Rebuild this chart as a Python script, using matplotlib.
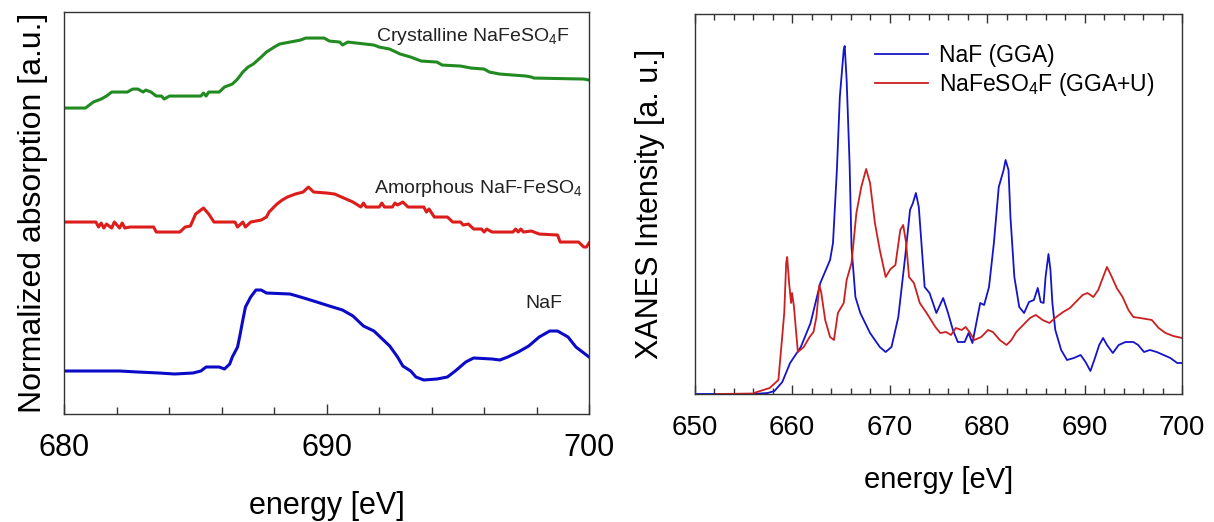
import matplotlib.pyplot as plt
from matplotlib.ticker import MultipleLocator

plt.rcParams['font.family'] = ['Liberation Sans', 'DejaVu Sans']
plt.rcParams['mathtext.default'] = 'regular'

# left panel: measured absorption (offset curves, arbitrary units)
cryst_e = [680, 680.8, 681.1, 681.4, 681.6, 681.8, 682.4, 682.6, 682.8, 683.0, 683.1, 683.3, 683.5, 683.7,
           683.8, 684.0, 685.2, 685.3, 685.4, 685.5, 685.9, 686.1, 686.4, 686.6, 686.8, 687.0, 687.2, 687.5,
           687.7, 688.0, 688.2, 688.6, 689.0, 689.2, 689.9, 690.1, 690.5, 690.6, 690.8, 691.8, 692.0, 692.4,
           692.8, 693.2, 693.6, 694.2, 694.4, 695.1, 695.5, 696.0, 696.2, 696.6, 697.1, 697.6, 697.8, 697.9,
           699.8, 700.0]
cryst_v = [306, 306, 312, 315, 318, 322, 322, 325, 325, 322, 324, 322, 318, 318,
           315, 318, 318, 321, 318, 322, 322, 327, 330, 335, 342, 347, 350, 357,
           362, 367, 370, 372, 374, 376, 376, 373, 372, 369, 372, 369, 367, 365,
           360, 357, 353, 352, 349, 348, 346, 345, 342, 340, 339, 338, 337, 336,
           335, 334]

amor_e = [680, 681.2, 681.3, 681.4, 681.5, 681.6, 681.8, 681.9, 682.1, 682.2, 682.3, 682.5, 683.4, 683.5,
          684.4, 684.6, 684.8, 685.0, 685.3, 685.5, 685.7, 686.5, 686.6, 686.8, 686.9, 687.1, 687.5, 687.7,
          687.8, 688.1, 688.3, 688.5, 688.8, 689.1, 689.3, 689.5, 690.0, 690.3, 691.0, 691.3, 691.4, 691.5,
          692.0, 692.1, 692.2, 692.5, 692.6, 692.7, 692.9, 693.1, 693.7, 693.8, 693.9, 694.1, 694.6, 694.8,
          695.1, 695.2, 695.4, 695.6, 695.9, 696.0, 696.1, 696.3, 697.1, 697.2, 697.3, 697.4, 697.5, 697.8,
          698.1, 698.8, 698.9, 699.6, 699.8, 699.9, 700.0]
amor_v = [192, 192, 187, 191, 186, 190, 186, 192, 186, 191, 186, 187, 187, 182,
          182, 187, 188, 200, 206, 200, 192, 192, 187, 192, 187, 192, 194, 197,
          202, 210, 214, 217, 220, 222, 227, 222, 221, 220, 212, 207, 211, 207,
          207, 211, 207, 207, 211, 209, 212, 207, 207, 202, 205, 197, 197, 192,
          192, 189, 190, 185, 185, 182, 185, 182, 182, 185, 182, 185, 182, 183,
          180, 179, 172, 172, 167, 167, 171]

naf_e = [680, 682.1, 682.8, 683.6, 684.2, 684.9, 685.2, 685.4, 685.9, 686.1, 686.3, 686.4, 686.6, 686.7,
         686.8, 686.9, 687.1, 687.3, 687.5, 687.7, 688.6, 689.0, 689.5, 690.1, 690.6, 691.0, 691.4, 691.8,
         692.0, 692.4, 692.7, 692.9, 693.2, 693.4, 693.7, 694.2, 694.6, 694.9, 695.3, 695.6, 696.3, 696.6,
         696.9, 697.3, 697.7, 698.1, 698.5, 698.8, 699.2, 699.5, 699.9, 700.0]
naf_v = [43, 43, 42, 41, 40, 41, 43, 47, 47, 45, 50, 57, 67, 80,
         94, 107, 117, 124, 124, 121, 120, 117, 113, 108, 104, 98, 88, 83,
         78, 68, 57, 48, 43, 37, 34, 35, 37, 43, 52, 56, 55, 54,
         57, 62, 68, 77, 83, 83, 77, 67, 59, 57]

# right panel: calculated XANES
gga_e = [650, 656, 657.5, 658.2, 659, 659.8, 660.9, 661.9, 662.9, 663.9, 664.2, 664.6, 664.9, 665.3,
         665.4, 665.6, 665.9, 666.1, 666.5, 667.0, 668.0, 669.0, 669.6, 670.2, 670.9, 671.6, 672.1, 672.4,
         672.7, 673.0, 673.3, 673.6, 674.1, 674.8, 675.5, 676.0, 676.5, 677.0, 677.7, 678.1, 678.5, 678.9,
         679.3, 679.7, 680.2, 680.7, 681.2, 681.7, 681.9, 682.2, 682.4, 682.8, 683.3, 683.8, 684.3, 684.8,
         685.2, 685.5, 685.8, 686.0, 686.3, 686.5, 686.7, 687.0, 687.6, 688.2, 688.9, 689.6, 690.1, 690.6,
         691.1, 691.5, 691.9, 692.3, 692.9, 693.5, 694.2, 695.0, 695.5, 696.1, 696.7, 697.4, 698.1, 698.8,
         699.5, 700]
gga_v = [0, 0, 1, 3, 12, 31, 47, 71, 111, 134, 151, 224, 297, 344,
         348, 314, 231, 147, 97, 81, 61, 47, 42, 47, 77, 137, 184, 191,
         201, 187, 147, 107, 101, 81, 96, 81, 64, 52, 52, 61, 51, 71,
         91, 89, 107, 151, 207, 224, 234, 224, 177, 117, 87, 81, 92, 94,
         106, 92, 91, 117, 140, 124, 91, 64, 44, 34, 36, 39, 32, 23,
         37, 49, 56, 49, 41, 49, 52, 52, 49, 42, 44, 42, 39, 36,
         31, 31]

ggau_e = [652.3, 656, 656.4, 657.7, 658.6, 658.9, 659.2, 659.4, 659.5, 659.7, 659.9, 660.0, 660.2, 660.4,
          660.6, 661.2, 661.8, 662.2, 662.5, 662.8, 663.0, 663.4, 663.9, 664.3, 664.7, 665.3, 665.6, 666.1,
          666.6, 667.1, 667.6, 668.0, 668.5, 669.0, 669.6, 670.1, 670.6, 671.1, 671.4, 671.7, 672.0, 672.5,
          673.1, 673.8, 674.7, 675.2, 675.8, 676.3, 676.8, 677.4, 677.8, 678.2, 678.7, 679.4, 680.1, 680.6,
          681.3, 682.0, 682.5, 683.0, 683.7, 684.4, 685.0, 685.7, 686.4, 687.1, 687.8, 688.5, 689.1, 689.8,
          690.3, 690.9, 691.4, 691.9, 692.3, 692.8, 693.3, 693.9, 694.5, 695.0, 695.7, 696.9, 697.6, 698.3,
          699.1, 700]
ggau_v = [0, 0.5, 2, 6, 14, 47, 81, 131, 137, 111, 91, 101, 87, 64,
          42, 47, 57, 62, 77, 109, 101, 74, 57, 54, 81, 91, 114, 131,
          181, 207, 225, 211, 171, 144, 117, 125, 129, 164, 169, 151, 117, 111,
          91, 81, 67, 61, 62, 59, 66, 64, 67, 62, 54, 57, 64, 62,
          54, 49, 54, 62, 69, 76, 79, 74, 71, 77, 82, 86, 92, 99,
          101, 97, 104, 117, 127, 117, 106, 97, 84, 77, 76, 74, 66, 61,
          58, 56]

fig = plt.figure(figsize=(12.14, 5.22), dpi=100)
spine_col = '#333333'

# ---- left
ax1 = fig.add_axes([0.0531, 0.2069, 0.4321, 0.770])
ax1.plot(cryst_e, cryst_v, color='#218a21', lw=2.2)
ax1.plot(amor_e, amor_v, color='#dd1c1c', lw=2.2)
ax1.plot(naf_e, naf_v, color='#0a0ac8', lw=2.2)
ax1.set_xlim(680, 700)
ax1.set_ylim(0, 402)
ax1.set_yticks([])
ax1.xaxis.set_major_locator(MultipleLocator(10))
ax1.xaxis.set_minor_locator(MultipleLocator(2))
ax1.tick_params(axis='x', which='major', direction='in', length=7, width=1, color=spine_col,
                labelsize=22, pad=14)
ax1.tick_params(axis='x', which='minor', direction='in', length=5, width=1, color=spine_col)
ax1.set_xlabel('energy [eV]', fontsize=22, labelpad=20)
ax1.set_ylabel('Normalized absorption [a.u.]', fontsize=23, labelpad=12)
for s in ax1.spines.values():
    s.set_color(spine_col)
    s.set_linewidth(1)
ax1.text(0.964, 0.94, 'Crystalline NaFeSO$_4$F', transform=ax1.transAxes, ha='right', va='center',
         fontsize=14, color='#222222')
ax1.text(0.987, 0.562, 'Amorphous NaF-FeSO$_4$', transform=ax1.transAxes, ha='right', va='center',
         fontsize=14, color='#222222')
ax1.text(0.950, 0.276, 'NaF', transform=ax1.transAxes, ha='right', va='center',
         fontsize=14, color='#222222')

# ---- right
ax2 = fig.add_axes([0.5721, 0.2452, 0.4016, 0.728])
ax2.plot(gga_e, gga_v, color='#1414c8', lw=1.3, label='NaF (GGA)')
ax2.plot(ggau_e, ggau_v, color='#cc2020', lw=1.3, label='NaFeSO$_4$F (GGA+U)')
ax2.set_xlim(650, 700)
ax2.set_ylim(0, 380)
ax2.set_yticks([])
ax2.xaxis.set_major_locator(MultipleLocator(10))
ax2.xaxis.set_minor_locator(MultipleLocator(2))
ax2.tick_params(axis='x', which='major', direction='in', length=6.5, width=1, color=spine_col,
                top=True, labelsize=20, pad=15)
ax2.tick_params(axis='x', which='minor', direction='in', length=4, width=1, color=spine_col, top=True)
ax2.set_xlabel('energy [eV]', fontsize=21, labelpad=18)
ax2.set_ylabel('XANES Intensity [a. u.]', fontsize=22, labelpad=21)
for s in ax2.spines.values():
    s.set_color(spine_col)
    s.set_linewidth(1)
ax2.legend(loc='upper left', bbox_to_anchor=(0.37, 0.92), frameon=False, fontsize=16.5,
           handlelength=2.3, handletextpad=0.5, labelspacing=0.15, borderpad=0, borderaxespad=0)

fig.savefig('out.png', dpi=100)
